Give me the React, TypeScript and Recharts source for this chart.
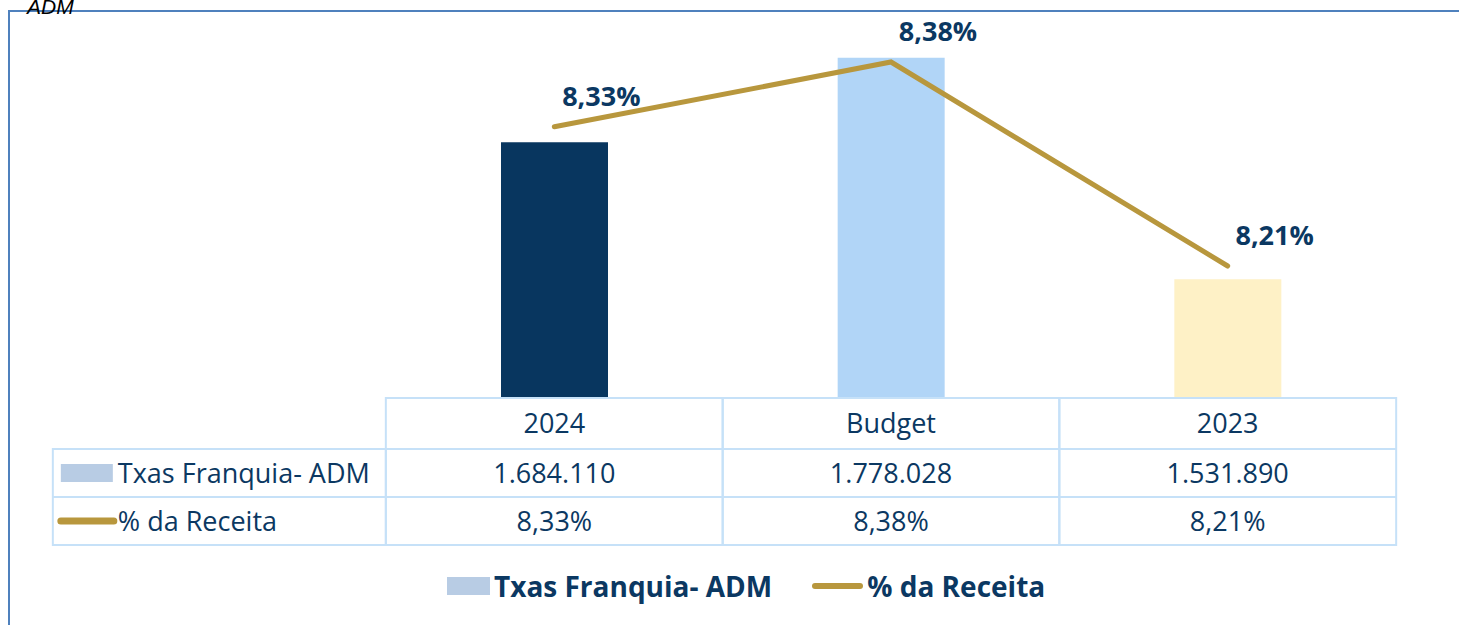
import React from 'react';
import { ComposedChart, Bar, Line, XAxis, YAxis, Cell, LabelList } from 'recharts';

const categories = ['2024', 'Budget', '2023'];
const taxasFranquia = [1684110, 1778028, 1531890];
const pctReceita = [8.326, 8.38, 8.21];
const barColors = ['#08365f', '#b1d5f7', '#fef1c6'];
const seriesNames = ['Txas Franquia- ADM', '% da Receita'];

const data = categories.map((c, i) => ({
  name: c,
  taxas: taxasFranquia[i],
  pct: pctReceita[i],
}));

const NAVY = '#0b3862';
const GOLD = '#b8973d';
const GRID = '#c6e1f8';
const FONT = '"Open Sans", "Noto Sans", sans-serif';

const fmtNum = (v: number) => String(v).replace(/\B(?=(\d{3})+(?!\d))/g, '.');
const fmtPct = (v: number) => v.toFixed(2).replace('.', ',') + '%';

const BAND = 337;
const LABEL_COL = 333;
const ROWS = [51, 48, 48];

// one table column per category, drawn from the x axis ticks
const TableTick = (props: any) => {
  const { x, y, payload, index } = props;
  const left = x - BAND / 2;
  const r1 = y + ROWS[0];
  const r2 = r1 + ROWS[1];
  const r3 = r2 + ROWS[2];
  const text = { fontFamily: FONT, fontSize: 27, fill: NAVY, textAnchor: 'middle' as const };
  const lx = left - LABEL_COL;
  return (
    <g>
      <rect x={left} y={y} width={BAND} height={r3 - y} fill="none" stroke={GRID} strokeWidth={2} />
      <line x1={left} x2={left + BAND} y1={r1} y2={r1} stroke={GRID} strokeWidth={2} />
      <line x1={left} x2={left + BAND} y1={r2} y2={r2} stroke={GRID} strokeWidth={2} />
      <text {...text} x={x} y={y + ROWS[0] / 2} dy="0.36em">{payload.value}</text>
      <text {...text} x={x} y={r1 + ROWS[1] / 2} dy="0.36em">{fmtNum(taxasFranquia[index])}</text>
      <text {...text} x={x} y={r2 + ROWS[2] / 2} dy="0.36em">{fmtPct(pctReceita[index])}</text>
      {index === 0 && (
        <g>
          <rect x={lx} y={r1} width={LABEL_COL} height={r3 - r1} fill="none" stroke={GRID} strokeWidth={2} />
          <line x1={lx} x2={left} y1={r2} y2={r2} stroke={GRID} strokeWidth={2} />
          <rect x={lx + 8} y={r1 + 15} width={52} height={18} fill="#b8cce4" />
          <text {...text} textAnchor="start" x={lx + 65} y={r1 + ROWS[1] / 2} dy="0.36em">{seriesNames[0]}</text>
          <line x1={lx + 8} x2={lx + 61} y1={r2 + 24} y2={r2 + 24} stroke={GOLD} strokeWidth={7} strokeLinecap="round" />
          <text {...text} textAnchor="start" x={lx + 65} y={r2 + ROWS[2] / 2} dy="0.36em">{seriesNames[1]}</text>
        </g>
      )}
    </g>
  );
};

const PctLabel = (props: any) => {
  const { x, y, value } = props;
  return (
    <text x={x + 47} y={y - 31} dy="0.36em" textAnchor="middle" fontFamily={FONT} fontSize={27} fontWeight={700} fill={NAVY}>
      {fmtPct(value)}
    </text>
  );
};

export default function App() {
  return (
    <div style={{ position: 'absolute', left: 0, top: 0, width: 1459, height: 625, overflow: 'hidden', background: '#fff' }}>
      <div style={{ position: 'absolute', left: 8, top: 10, width: 1459, height: 625, borderLeft: '2px solid #4f81bd', borderTop: '2px solid #4f81bd' }} />
      <div style={{ position: 'absolute', left: 27, top: -5, lineHeight: '24px', fontFamily: '"Liberation Sans", Arial, sans-serif', fontStyle: 'italic', fontSize: 21, color: '#000' }}>
        ADM
      </div>
      <div style={{ position: 'absolute', left: 0, top: 0 }}>
        <ComposedChart width={1459} height={625} data={data} margin={{ top: 38, right: 63, bottom: 0, left: 386 }}>
          <XAxis dataKey="name" height={227} axisLine={false} tickLine={false} tickSize={0} tickMargin={0} interval={0} tick={<TableTick />} />
          <YAxis yAxisId="left" hide domain={[1400000, 1800000]} allowDataOverflow />
          <YAxis yAxisId="right" orientation="right" hide domain={[8.1, 8.4]} allowDataOverflow />
          <Bar yAxisId="left" dataKey="taxas" barSize={107} isAnimationActive={false}>
            {data.map((d, i) => (
              <Cell key={d.name} fill={barColors[i]} />
            ))}
          </Bar>
          <Line
            yAxisId="right"
            dataKey="pct"
            type="linear"
            stroke={GOLD}
            strokeWidth={5}
            strokeLinecap="round"
            dot={false}
            activeDot={false}
            isAnimationActive={false}
          >
            <LabelList dataKey="pct" content={<PctLabel />} />
          </Line>
        </ComposedChart>
      </div>
      <div style={{ position: 'absolute', left: 447, top: 567, display: 'flex', alignItems: 'center', fontFamily: FONT, fontWeight: 700, fontSize: 28, color: NAVY, whiteSpace: 'nowrap' }}>
        <span style={{ display: 'inline-block', width: 43, height: 18, background: '#b8cce4', marginRight: 4 }} />
        <span>{seriesNames[0]}</span>
        <span style={{ display: 'inline-block', width: 51, height: 6, borderRadius: 3, background: GOLD, marginLeft: 40, marginRight: 4 }} />
        <span>{seriesNames[1]}</span>
      </div>
    </div>
  );
}
